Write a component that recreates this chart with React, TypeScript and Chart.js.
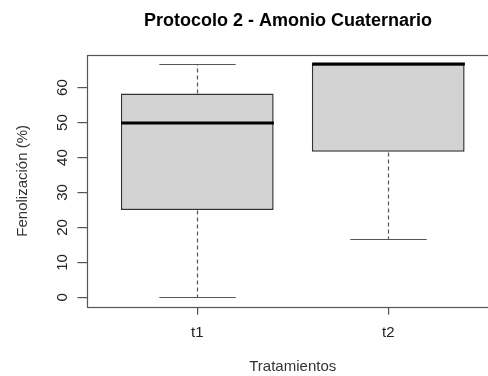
import React, { useEffect, useRef } from "react";
import { Chart, registerables } from "chart.js";

Chart.register(...registerables);

const categories = ["t1", "t2"];
const minValues = [0, 16.67];
const q1Values = [25, 41.67];
const medianValues = [50, 66.67];
const q3Values = [58.33, 66.67];
const maxValues = [66.67, 66.67];
const yTickValues = [0, 10, 20, 30, 40, 50, 60];

const titleText = "Protocolo 2 - Amonio Cuaternario";
const xTitle = "Tratamientos";
const yTitle = "Fenolización (%)";

const FONT = "'Liberation Sans', Arial, sans-serif";

const boxPlugin = {
  id: "rBoxplot",
  afterDraw(chart: any) {
    const { ctx, chartArea } = chart;
    const x = chart.scales.x;
    const y = chart.scales.y;
    const unit = x.getPixelForValue(2) - x.getPixelForValue(1);
    const line = (x1: number, y1: number, x2: number, y2: number) => {
      ctx.beginPath();
      ctx.moveTo(x1, y1);
      ctx.lineTo(x2, y2);
      ctx.stroke();
    };
    const py = (v: number) => Math.round(y.getPixelForValue(v)) + 0.5;
    ctx.save();
    categories.forEach((_, i) => {
      const cx = Math.round(x.getPixelForValue(i + 1)) + 0.5;
      ctx.strokeStyle = "#555";
      ctx.lineWidth = 1.2;
      ctx.setLineDash([4, 3]);
      if (maxValues[i] > q3Values[i]) line(cx, py(q3Values[i]), cx, py(maxValues[i]));
      if (minValues[i] < q1Values[i]) line(cx, py(q1Values[i]), cx, py(minValues[i]));
      ctx.setLineDash([]);
      line(cx - 0.2 * unit, py(maxValues[i]), cx + 0.2 * unit, py(maxValues[i]));
      line(cx - 0.2 * unit, py(minValues[i]), cx + 0.2 * unit, py(minValues[i]));
      ctx.strokeStyle = "#000";
      ctx.lineWidth = 3;
      const my = Math.round(y.getPixelForValue(medianValues[i]));
      line(cx - 0.4 * unit, my, cx + 0.4 * unit, my);
    });
    // frame
    ctx.strokeStyle = "#555";
    ctx.lineWidth = 1.2;
    ctx.strokeRect(
      Math.round(chartArea.left) + 0.5,
      Math.round(chartArea.top) + 0.5,
      Math.round(chartArea.right - chartArea.left),
      Math.round(chartArea.bottom - chartArea.top)
    );
    // rotated y tick labels
    ctx.fillStyle = "#222";
    ctx.font = `15px ${FONT}`;
    ctx.textAlign = "center";
    ctx.textBaseline = "middle";
    yTickValues.forEach((v) => {
      ctx.save();
      ctx.translate(63, y.getPixelForValue(v));
      ctx.rotate(-Math.PI / 2);
      ctx.fillText(String(v), 0, 0);
      ctx.restore();
    });
    ctx.restore();
  },
};

export default function App() {
  const ref = useRef<HTMLCanvasElement>(null);
  useEffect(() => {
    if (!ref.current) return;
    const chart = new Chart(ref.current, {
      type: "bar",
      data: {
        datasets: [
          {
            data: categories.map((_, i) => ({ x: i + 1, y: [q1Values[i], q3Values[i]] })) as any,
            backgroundColor: "#d3d3d3",
            borderColor: "#333",
            borderWidth: 1.5,
            borderSkipped: false,
            barPercentage: 0.8,
            categoryPercentage: 1,
          },
        ],
      },
      options: {
        animation: false,
        responsive: false,
        devicePixelRatio: 1,
        layout: { padding: 0 },
        plugins: {
          legend: { display: false },
          tooltip: { enabled: false },
          title: {
            display: true,
            text: titleText,
            color: "#000",
            font: { family: FONT, size: 18, weight: "bold" },
            padding: { top: 10, bottom: 23.4 },
          },
        },
        scales: {
          x: {
            type: "linear",
            min: 0.42,
            max: 2.58,
            offset: false,
            afterBuildTicks: (s: any) => {
              s.ticks = categories.map((_, i) => ({ value: i + 1 }));
            },
            afterFit: (s: any) => {
              s.height = 69.3;
            },
            ticks: {
              autoSkip: false,
              maxRotation: 0,
              color: "#222",
              padding: 9,
              font: { family: FONT, size: 15 },
              callback: (_v: any, i: number) => categories[i],
            },
            grid: {
              display: true,
              offset: false,
              drawOnChartArea: false,
              drawTicks: true,
              tickLength: 8,
              lineWidth: 1.2,
              color: "#555",
            },
            border: { display: false },
            title: {
              display: true,
              text: xTitle,
              color: "#333",
              font: { family: FONT, size: 15 },
              padding: { top: 0, bottom: 0 },
            },
          },
          y: {
            type: "linear",
            min: -2.67,
            max: 69.33,
            afterBuildTicks: (s: any) => {
              s.ticks = yTickValues.map((v) => ({ value: v }));
            },
            afterFit: (s: any) => {
              s.width = 86.5;
            },
            ticks: { display: false },
            grid: {
              display: true,
              drawOnChartArea: false,
              drawTicks: true,
              tickLength: 9,
              lineWidth: 1.2,
              color: "#555",
            },
            border: { display: false },
            title: {
              display: true,
              text: yTitle,
              color: "#333",
              font: { family: FONT, size: 15 },
              padding: { top: 14, bottom: 0 },
            },
          },
          rightMargin: {
            type: "linear",
            position: "right",
            display: true,
            min: 0,
            max: 1,
            afterFit: (s: any) => {
              s.width = 77;
            },
            ticks: { display: false },
            grid: { display: false },
            border: { display: false },
          },
        },
      },
      plugins: [boxPlugin],
    } as any);
    return () => chart.destroy();
  }, []);
  return (
    <div
      style={{
        position: "fixed",
        left: 0,
        top: 0,
        width: 488,
        height: 376,
        overflow: "hidden",
        background: "#fff",
      }}
    >
      <canvas ref={ref} width={576} height={376} style={{ display: "block", width: 576, height: 376 }} />
    </div>
  );
}
